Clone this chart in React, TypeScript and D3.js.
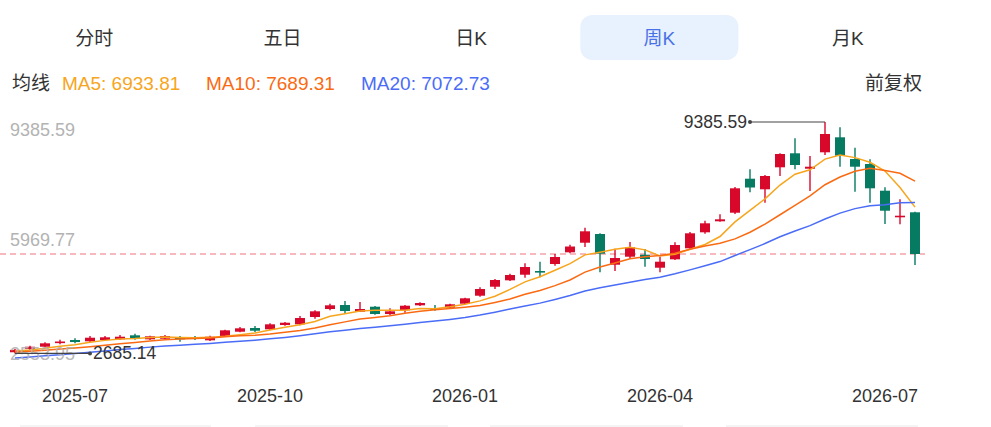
import React from 'react'
import * as d3 from 'd3'

// tabs and legend
const tabs = ['分时', '五日', '日K', '周K', '月K']
const activeTab = 3
const maPeriods = [5, 10, 20]
const maLegendValues = ['6933.81', '7689.31', '7072.73']

// price axis labels (min, mid, max)
const axisValues = [2553.95, 5969.77, 9385.59]

// x ticks: candle index -> label
const tickIndex = [4, 17, 30, 43, 58]
const tickLabels = ['2025-07', '2025-10', '2026-01', '2026-04', '2026-07']

// weekly candles
const opens = [
    2720, 2813.9, 2880.5, 2987.6, 3074.5, 3036.9, 3074.5, 3094.8, 3210.6, 3094.8,
    3112.1, 3141.1, 3161.3, 3065.8, 3170.0, 3314.8, 3421.9, 3384.3, 3508.7, 3529.0,
    3740.3, 3971.9, 4087.7, 3893.8, 4038.5, 3827.2, 3934.3, 4079.1, 4000.9, 4009.6,
    4125.4, 4357.0, 4617.5, 4802.8, 4964.9, 5072.0, 5274.7, 5613.4, 5891.3, 6143.2,
    5254.4, 5486.0, 5543.9, 5167.6, 5410.8, 5729.2, 6192.4, 6510.9, 6759.8, 7744.1,
    7437.3, 8074.2, 8479.5, 8033.6, 8508.4, 8942.7, 8314.4, 8169.7, 7396.7, 6626.7,
    6771.4
]
const closes = [
    2790, 2880.5, 2979.0, 3031.1, 3016.6, 3141.1, 3152.7, 3170.0, 3103.4, 3181.6,
    3190.3, 3103.4, 3110.0, 3170.0, 3355.3, 3413.2, 3343.7, 3529.0, 3575.3, 3711.4,
    3905.4, 4079.1, 3914.0, 3971.9, 3827.2, 3905.4, 4067.5, 4145.6, 3951.7, 4108.0,
    4281.7, 4550.9, 4811.5, 4956.2, 5187.8, 5028.6, 5477.3, 5781.3, 6221.4, 5572.9,
    5448.4, 5758.2, 5419.4, 5341.3, 5824.7, 6163.5, 6453.0, 6568.8, 7466.2, 7489.4,
    7822.3, 8459.2, 8140.7, 8091.5, 9038.2, 8410.0, 8091.5, 7466.2, 6817.7, 6673.0,
    5564.2
]
const highs = [
    2820, 2909.5, 3007.9, 3083.2, 3123.7, 3190.3, 3190.3, 3219.2, 3256.8, 3199.0,
    3219.2, 3190.3, 3190.3, 3199.0, 3372.7, 3450.8, 3479.8, 3557.9, 3595.6, 3769.3,
    3934.3, 4125.4, 4203.5, 4174.6, 4058.8, 3992.2, 4087.7, 4165.9, 4087.7, 4125.4,
    4299.1, 4600.2, 4840.4, 4993.9, 5295.0, 5341.3, 5564.2, 5833.4, 6325.6, 6163.5,
    5717.6, 5911.6, 5708.9, 5486.0, 5902.9, 6201.1, 6528.2, 6713.6, 7503.8, 8016.3,
    7851.2, 8479.5, 8913.7, 8401.3, 9385.59, 9232.2, 8641.6, 8305.8, 7495.2, 7147.8,
    6790
]
const lows = [
    2685.14, 2785.0, 2863.2, 2950.0, 2979.0, 3016.6, 3065.8, 3074.5, 3083.2, 3074.5,
    3089.0, 3025.3, 3074.5, 3045.5, 3161.3, 3297.4, 3306.1, 3364.0, 3488.5, 3500.1,
    3691.1, 3934.3, 3835.9, 3885.1, 3806.9, 3789.6, 3864.8, 4058.8, 3922.7, 3992.2,
    4108.0, 4328.0, 4550.9, 4782.5, 4878.1, 4889.7, 5225.5, 5584.5, 5766.8, 5034.4,
    5072.0, 5419.4, 5196.5, 5034.4, 5390.5, 5700.3, 6151.9, 6499.3, 6722.2, 7350.4,
    7049.3, 7822.3, 8016.3, 7388.0, 8430.2, 8091.5, 7367.8, 7049.3, 6432.7, 6424.0,
    5245.7
]
// closes of the 19 weeks before the first visible one (only feed the moving averages)
const warmupCloses = [
    2300, 2320, 2350, 2330, 2380, 2400, 2420, 2410, 2450, 2540,
    2600, 2640, 2680, 2710, 2770, 2720, 2740, 2750, 2780
]

const W = 991
const H = 427
const RED = '#d8082b'
const GREEN = '#077a62'
const maColors = ['#f7a51c', '#fa6a12', '#4a6cf7']
const legendX = [62, 206, 361]
const font = '"Liberation Sans", Arial, "Noto Sans CJK SC", sans-serif'
const bottomSegs = [[20, 211], [255, 448], [490, 683], [726, 918]]

const x = d3.scaleLinear().domain([0, closes.length - 1]).range([15, 915])
const y = d3.scaleLinear().domain([axisValues[0], axisValues[2]]).range([358, 122])
const tabX = d3.scaleBand<number>().domain(d3.range(tabs.length)).range([0, 942])

const allCloses = [...warmupCloses, ...closes]
const movingAvg = (p: number) =>
    closes.map((_, i) => {
        const end = i + warmupCloses.length + 1
        return d3.mean(allCloses.slice(Math.max(0, end - p), end)) as number
    })

const line = d3.line<number>().x((_, i) => x(i)).y(d => y(d))

export default function App() {
    const bodyW = 10
    const maxI = d3.maxIndex(highs)
    const minI = d3.minIndex(lows)
    const last = closes[closes.length - 1]

    return (
        <div style={{ position: 'absolute', left: 0, top: 0 }}>
            <svg width={W} height={H} style={{ display: 'block', fontFamily: font }}>
                <rect width={W} height={H} fill="#fff" />

                {/* tabs */}
                {tabs.map((t, i) => {
                    const cx = tabX(i)! + tabX.bandwidth() / 2
                    return (
                        <g key={t}>
                            {i === activeTab && (
                                <rect x={cx - 79} y={15} width={158} height={45} rx={12} fill="#e8f1fe" />
                            )}
                            <text x={cx} y={38} fontSize={19} textAnchor="middle" dominantBaseline="central"
                                fill={i === activeTab ? '#4a72e8' : '#333'}>
                                {t}
                            </text>
                        </g>
                    )
                })}

                {/* legend */}
                <text x={12} y={83} fontSize={19} dominantBaseline="central" fill="#333">均线</text>
                {maPeriods.map((p, i) => (
                    <text key={p} x={legendX[i]} y={83} fontSize={19} dominantBaseline="central" fill={maColors[i]}>
                        {`MA${p}: ${maLegendValues[i]}`}
                    </text>
                ))}
                <text x={922} y={83} fontSize={19} textAnchor="end" dominantBaseline="central" fill="#333">前复权</text>

                {/* price axis labels */}
                <text x={10} y={y(axisValues[2]) + 1} fontSize={18} fill="#b3b3b3" dominantBaseline="hanging">
                    {axisValues[2].toFixed(2)}
                </text>
                <text x={10} y={y(axisValues[1])} fontSize={18} fill="#b3b3b3" dominantBaseline="central">
                    {axisValues[1].toFixed(2)}
                </text>

                {/* last price line */}
                <line x1={0} x2={925} y1={y(last)} y2={y(last)} stroke="#f5a3a8" strokeWidth={1.5} strokeDasharray="6 4" />

                {/* candles */}
                {closes.map((c, i) => {
                    const o = opens[i]
                    const up = c >= o
                    const col = up ? RED : GREEN
                    const top = y(Math.max(o, c))
                    const h = Math.max(1.6, Math.abs(y(o) - y(c)))
                    return (
                        <g key={i}>
                            <line x1={x(i)} x2={x(i)} y1={y(highs[i])} y2={y(lows[i])} stroke={col} strokeWidth={1.4} />
                            <rect x={x(i) - bodyW / 2} y={top} width={bodyW} height={h} fill={col} />
                        </g>
                    )
                })}

                {/* moving averages */}
                {maPeriods.map((p, i) => (
                    <path key={p} d={line(movingAvg(p))!} fill="none" stroke={maColors[i]} strokeWidth={1.5} />
                ))}

                {/* bottom axis label drawn over the lines */}
                <text x={10} y={y(axisValues[0]) + 2} fontSize={18} fill="#b3b3b3" opacity={0.9}>
                    {axisValues[0].toFixed(2)}
                </text>

                {/* max marker */}
                <line x1={x(maxI) - 75} x2={x(maxI)} y1={y(highs[maxI])} y2={y(highs[maxI])} stroke="#444" strokeWidth={1.2} />
                <circle cx={x(maxI) - 75} cy={y(highs[maxI])} r={2} fill="#444" />
                <text x={x(maxI) - 78} y={y(highs[maxI])} fontSize={17.5} textAnchor="end" dominantBaseline="central" fill="#333">
                    {highs[maxI].toFixed(2)}
                </text>

                {/* min marker */}
                <line x1={x(minI)} x2={x(minI) + 75} y1={y(lows[minI])} y2={y(lows[minI])} stroke="#444" strokeWidth={1.2} />
                <circle cx={x(minI) + 75} cy={y(lows[minI])} r={2} fill="#444" />
                <text x={x(minI) + 78} y={y(lows[minI])} fontSize={17.5} dominantBaseline="central" fill="#333">
                    {lows[minI].toFixed(2)}
                </text>

                {/* date ticks */}
                {tickIndex.map((ti, i) => (
                    <text key={ti} x={x(ti)} y={396} fontSize={18} textAnchor="middle" dominantBaseline="central" fill="#333">
                        {tickLabels[i]}
                    </text>
                ))}

                {bottomSegs.map(([a, b]) => (
                    <line key={a} x1={a} x2={b} y1={426} y2={426} stroke="#f0f0f0" strokeWidth={1.5} />
                ))}
            </svg>
        </div>
    )
}
